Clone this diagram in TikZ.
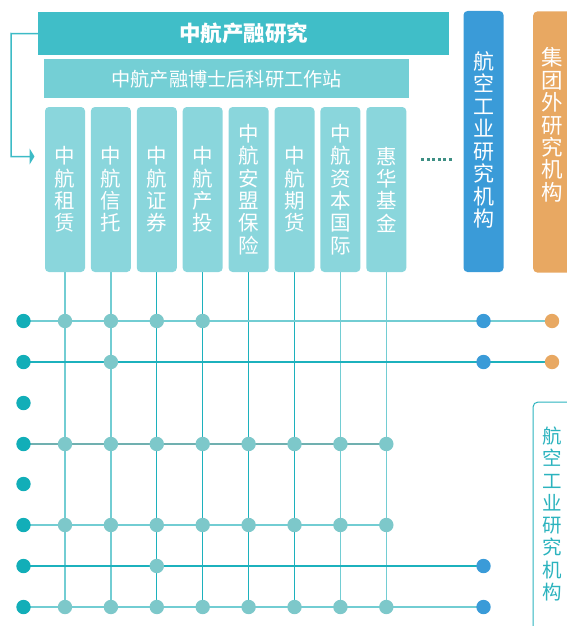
\documentclass[tikz,border=0pt]{standalone}
\usepackage{fontspec}
\newfontfamily\cjk{Noto Sans CJK SC}
\usetikzlibrary{arrows.meta,backgrounds}
\definecolor{topc}{HTML}{40BEC8}
\definecolor{secc}{HTML}{74CFD5}
\definecolor{smallc}{HTML}{8AD6DC}
\definecolor{bluec}{HTML}{3A9BD8}
\definecolor{orangec}{HTML}{E8A862}
\definecolor{leftdot}{HTML}{12AEB8}
\definecolor{griddot}{HTML}{7DC8CA}
\definecolor{lightln}{HTML}{72CDD3}
\definecolor{darkln}{HTML}{1CB1BD}
\definecolor{greyln}{HTML}{70B0B0}
\definecolor{framec}{HTML}{2BB3BE}
\definecolor{arrowc}{HTML}{3DBBC6}
\definecolor{ellc}{HTML}{3E8F84}
\tikzset{
  topbox/.style={fill=topc, text=white, inner sep=0pt, anchor=north west,
    font=\cjk\bfseries\fontsize{21.5}{24}\selectfont},
  secbox/.style={fill=secc, text=white, inner sep=0pt, anchor=north west,
    font=\cjk\fontsize{19.2}{22}\selectfont},
  smallbox/.style={fill=smallc, text=white, inner sep=0pt, rounded corners=4pt,
    minimum width=40pt, minimum height=165pt, align=center,
    font=\cjk\fontsize{20.5}{22.3}\selectfont},
  sidebox/.style={inner sep=0pt, rounded corners=4pt, text=white,
    minimum width=40pt, minimum height=261pt},
  vtext/.style={inner sep=0pt, align=center, text=white},
  ldot/.style={circle, fill=leftdot, inner sep=0pt, minimum size=14.4pt},
  gdot/.style={circle, fill=griddot, inner sep=0pt, minimum size=14.4pt},
  bdot/.style={circle, fill=bluec, inner sep=0pt, minimum size=14.4pt},
  odot/.style={circle, fill=orangec, inner sep=0pt, minimum size=14.4pt},
  hl/.style={line width=1.2pt},
}
\begin{document}
\begin{tikzpicture}[x=1pt,y=-1pt]
\useasboundingbox (0,0) rectangle (566,626);
% header boxes
\node[topbox, minimum width=411pt, minimum height=43pt] (top) at (38,12) {中航产融研究};
\node[secbox, minimum width=365pt, minimum height=39pt] (sec) at (44,59) {中航产融博士后科研工作站};
% company boxes
\foreach \i/\txt in {1/{中\\航\\租\\赁},2/{中\\航\\信\\托},3/{中\\航\\证\\券},4/{中\\航\\产\\投},
  5/{中\\航\\安\\盟\\保\\险},6/{中\\航\\期\\货},7/{中\\航\\资\\本\\国\\际},8/{惠\\华\\基\\金}}{
  \node[smallbox] (box\i) at ({65+45.9*(\i-1)},189.5) {\txt};
}
% ellipsis
\foreach \k in {0,...,5}{
  \fill[ellc] ({421+5.6*\k},157.5) rectangle ++(3,3);
}
% side boxes
\node[sidebox, fill=bluec] (blue) at (483.5,141.5) {};
\node[vtext, font=\cjk\fontsize{21}{22.5}\selectfont] (bluet) at (484,140) {航\\空\\工\\业\\研\\究\\机\\构};
\node[sidebox, fill=orangec, minimum width=50pt, anchor=west] (orange) at (533,142) {};
\node[vtext, font=\cjk\fontsize{21.5}{22.4}\selectfont] (oranget) at (552,125) {集\\团\\外\\研\\究\\机\\构};
% feedback arrow
\coordinate (bend) at (11,33.5);
\coordinate (arrowend) at (34.5,156.5);
\draw[arrowc, line width=1.5pt, -{Triangle[length=5pt,width=16pt]}] (top.west) -- (bend) |- (arrowend);
% bottom right frame
\draw[framec, line width=1pt, rounded corners=5pt] (580,402) -- (533,402) -- (533,640);
\node[vtext, text=framec, font=\cjk\fontsize{19.5}{22.3}\selectfont] (framet) at (552,514) {航\\空\\工\\业\\研\\究\\机\\构};
% rows
\def\ry#1{\ifcase#1\or321\or362\or403\or444\or484\or525\or566\or607\fi}
\foreach \j in {1,...,8}{
  \node[ldot] (L\j) at (23.5,\ry{\j}) {};
}
\foreach \i in {1,...,4}{ \node[gdot] (G\i-1) at ({65+45.9*(\i-1)},321) {}; }
\node[gdot] (G2-2) at (110.9,362) {};
\foreach \j in {4,6,8}{
  \foreach \i in {1,...,8}{ \node[gdot] (G\i-\j) at ({65+45.9*(\i-1)},\ry{\j}) {}; }
}
\node[gdot] (G3-7) at (156.8,566) {};
\node[bdot] (B1) at (483.5,321) {};
\node[bdot] (B2) at (483.5,362) {};
\node[bdot] (B7) at (483.5,566) {};
\node[bdot] (B8) at (483.5,607) {};
\node[odot] (O1) at (552,321) {};
\node[odot] (O2) at (552,362) {};
\begin{pgfonlayer}{background}
  \foreach \i/\c in {1/lightln,2/lightln,3/darkln,4/darkln,5/darkln,6/darkln,7/lightln,8/lightln}{
    \draw[hl, \c] (box\i.south) -- (G\i-8.center);
  }
  \draw[hl, lightln] (L1.center) -- (O1.center);
  \draw[hl, darkln] (L2.center) -- (O2.center);
  \draw[hl, greyln] (L4.center) -- (G8-4.center);
  \draw[hl, lightln] (L6.center) -- (G8-6.center);
  \draw[hl, darkln] (L7.center) -- (B7.center);
  \draw[hl, lightln] (L8.center) -- (B8.center);
\end{pgfonlayer}
\end{tikzpicture}
\end{document}
